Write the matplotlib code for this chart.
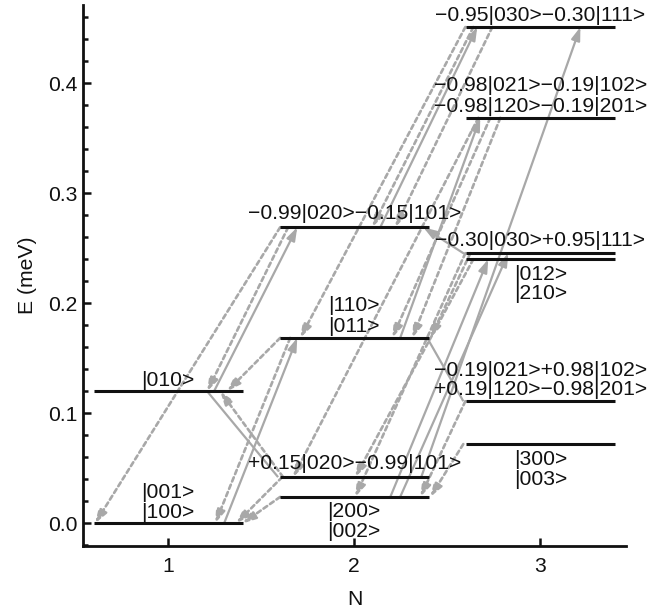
import matplotlib
matplotlib.use("Agg")
import matplotlib.pyplot as plt
from matplotlib.ticker import MultipleLocator, FormatStrFormatter

plt.rcParams['font.family'] = ['Liberation Sans', 'DejaVu Sans']

# ---- data ----
level_N = [1, 1, 2, 2, 2, 2, 3, 3, 3, 3, 3, 3]
level_E = [0.0, 0.120, 0.024, 0.042, 0.1685, 0.269,
           0.072, 0.111, 0.240, 0.2455, 0.3685, 0.451]
level_half_width = 0.4

label_level = [0, 0, 1, 2, 2, 3, 4, 4, 5, 6, 6, 7, 7, 8, 8, 9, 10, 10, 11]
label_text = ["|100>", "|001>", "|010>", "|200>", "|002>",
              "+0.15|020>\u22120.99|101>", "|011>", "|110>",
              "\u22120.99|020>\u22120.15|101>", "|300>", "|003>",
              "+0.19|120>\u22120.98|201>", "\u22120.19|021>+0.98|102>",
              "|012>", "|210>", "\u22120.30|030>+0.95|111>",
              "\u22120.98|120>\u22120.19|201>", "\u22120.98|021>\u22120.19|102>",
              "\u22120.95|030>\u22120.30|111>"]
label_offset_px = [11, 31, 11, -15, -35, 14, 11, 32, 14, -15, -35, 12, 31,
                   -15, -34, 13, 11, 32, 12]

# transitions: from level, x on from level, to level, x on to level, style
trans_from = [5, 5, 1, 4, 4, 0, 1, 3, 3, 2,
              11, 10, 11, 11, 10, 10, 9, 9, 8, 7, 6,
              5, 3, 4, 2, 2, 9, 4]
trans_x0 = [1.602, 1.645, 1.247, 1.602, 1.656, 1.301, 1.210, 1.618, 1.613, 1.602,
            2.597, 2.667, 2.640, 2.742, 2.731, 2.785, 2.624, 2.597, 2.640, 2.597, 2.586,
            2.140, 2.360, 2.247, 2.194, 2.247, 2.586, 2.392]
trans_to = [0, 1, 5, 1, 0, 4, 3, 1, 0, 0,
            4, 3, 5, 5, 4, 4, 4, 2, 3, 2, 2,
            11, 11, 10, 8, 9, 5, 7]
trans_x1 = [0.608, 1.210, 1.694, 1.317, 1.253, 1.694, 1.591, 1.280, 1.366, 1.400,
            1.710, 1.672, 2.097, 2.220, 2.204, 2.312, 2.409, 2.005, 2.005, 2.355, 2.409,
            2.661, 3.215, 2.677, 2.720, 2.828, 2.371, 2.586]
trans_style = ['d', 'd', 's', 'd', 'd', 's', 'l', 'd', 'd', 'd',
               'd', 'd', 'd', 'd', 'd', 'd', 'd', 'd', 'd', 'd', 'd',
               's', 's', 's', 's', 's', 's', 'l']

x_ticks = [1, 2, 3]

# ---- figure ----
W, H = 667, 614
fig = plt.figure(figsize=(W / 100, H / 100), dpi=100)
ax = fig.add_axes([83 / W, (H - 546) / H, (626 - 83) / W, (546 - 5) / H])
ax.set_xlim(0.543, 3.46)
ax.set_ylim(-0.0206, 0.471)

gray = '#a8a8a8'
for f, x0, t, x1, st in zip(trans_from, trans_x0, trans_to, trans_x1, trans_style):
    p0 = (x0, level_E[f])
    p1 = (x1, level_E[t])
    if st == 'l':
        ax.plot([p0[0], p1[0]], [p0[1], p1[1]], color=gray, lw=1.6,
                solid_capstyle='butt', zorder=1, clip_on=False)
        continue
    ls = '-' if st == 's' else (0, (1.7, 1.3))
    lw = 1.6 if st == 's' else 1.9
    ax.annotate('', xy=p1, xytext=p0, zorder=1, annotation_clip=False,
                arrowprops=dict(arrowstyle='-|>,head_length=0.65,head_width=0.22',
                                color=gray, lw=lw, linestyle=ls,
                                shrinkA=0, shrinkB=0, mutation_scale=12))

for n, e in zip(level_N, level_E):
    ax.plot([n - level_half_width, n + level_half_width], [e, e], color='#111111',
            lw=2.2, solid_capstyle='butt', zorder=3, clip_on=False)

FS = 15.2
for li, txt, off in zip(label_level, label_text, label_offset_px):
    ax.annotate(txt, xy=(level_N[li], level_E[li]), xytext=(0, off * 0.72),
                textcoords='offset points', ha='center', va='center',
                fontsize=FS, color='#111111', zorder=4, annotation_clip=False)

for s in ['top', 'right']:
    ax.spines[s].set_visible(False)
for s in ['left', 'bottom']:
    ax.spines[s].set_linewidth(2.0)
    ax.spines[s].set_color('#111111')

ax.set_xticks(x_ticks)
ax.yaxis.set_major_locator(MultipleLocator(0.1))
ax.yaxis.set_minor_locator(MultipleLocator(0.02))
ax.yaxis.set_major_formatter(FormatStrFormatter('%.1f'))
ax.tick_params(axis='both', which='major', direction='in', length=6, width=1.8,
               labelsize=FS, color='#111111', labelcolor='#111111')
ax.tick_params(axis='y', which='minor', direction='in', length=3.6, width=1.8,
               color='#111111')
ax.tick_params(axis='x', pad=8)
ax.tick_params(axis='y', pad=4)

ax.set_xlabel('N', fontsize=FS, labelpad=10, color='#111111')
ax.set_ylabel('E (meV)', fontsize=FS, labelpad=8, color='#111111')

fig.savefig('out.png', dpi=100)
